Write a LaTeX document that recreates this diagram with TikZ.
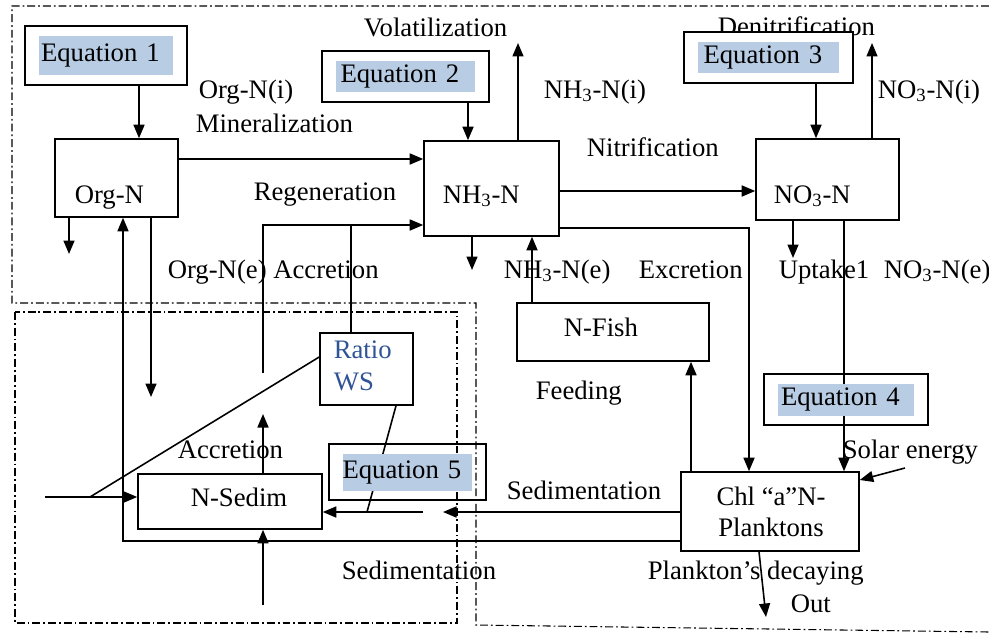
\documentclass[tikz,border=0pt]{standalone}
\usepackage{fontspec}
\setmainfont{Liberation Serif}
\usetikzlibrary{arrows.meta}
\definecolor{eqblue}{RGB}{184,204,228}
\definecolor{ratioblue}{RGB}{47,84,150}

\begin{document}
\begin{tikzpicture}[x=0.02cm, y=-0.02cm, line width=0.9pt,
    font=\fontsize{15.2}{18}\selectfont,
    box/.style={draw, inner sep=0pt},
    eqbox/.style={draw, inner sep=0pt, minimum width=3.28cm, minimum height=1.02cm,
      text width=2.6cm, align=left,
      path picture={\fill[eqblue] ([shift={(0.28cm,0.19cm)}]path picture bounding box.south west)
        rectangle ([shift={(-0.28cm,-0.19cm)}]path picture bounding box.north east);}},
    lbl/.style={anchor=base west, inner sep=0pt},
    arr/.style={-{Triangle[length=0.27cm,width=0.22cm]}},
    zone/.style={line width=0.6pt, dash pattern=on 4.5pt off 1.7pt on 1pt off 1.7pt}]
    \useasboundingbox (0,0) rectangle (989,635);

    % water column and sediment zones
    \draw[zone] (989,6) -- (12,6) -- (12,303) -- (476,303) -- (476,625) -- (989,632);
    \draw[zone] (15,312) rectangle (457,623);

    % compartments
    \node[box, minimum width=2.46cm, minimum height=1.56cm] (orgn) at (116.5,178) {};
    \node[box, minimum width=2.7cm, minimum height=1.9cm] (nh3) at (491.5,188.5) {};
    \node[box, minimum width=2.86cm, minimum height=1.62cm] (no3) at (827.5,179.5) {};
    \node[box, minimum width=3.84cm, minimum height=1.16cm] (fish) at (613,332) {};
    \node[box, minimum width=3.56cm, minimum height=1.58cm] (chl) at (770,511.5) {};
    \node[box, minimum width=1.86cm, minimum height=1.44cm] (ratio) at (366.5,369) {};
    \node[box, minimum width=3.68cm, minimum height=1.1cm] (sedim) at (230,501.5) {};

    \node[lbl] at (74,203) {Org-N};
    \node[lbl] at (442,203) {NH\textsubscript{3}-N};
    \node[lbl] at (773,203) {NO\textsubscript{3}-N};
    \node[lbl] at (563,336) {N-Fish};
    \node[lbl] at (190,506) {N-Sedim};
    \node[inner sep=0pt, align=center] at (771,512) {Chl “a”N-\\Planktons};
    \node[inner sep=0pt, align=left, anchor=west, text=ratioblue] at (333,366) {Ratio\\WS};

    % process labels
    \node[lbl] at (363,37) {Volatilization};
    \node[lbl] at (198,98) {Org-N(i)};
    \node[lbl] at (195,132) {Mineralization};
    \node[lbl] at (253,200) {Regeneration};
    \node[lbl] at (167,278) {Org-N(e) Accretion};
    \node[lbl] at (543,98) {NH\textsubscript{3}-N(i)};
    \node[lbl] at (586,156) {Nitrification};
    \node[lbl] at (717,36) {Denitrification};
    \node[lbl] at (877,98) {NO\textsubscript{3}-N(i)};
    \node[lbl] at (503,278) {NH\textsubscript{3}-N(e)};
    \node[lbl] at (638,278) {Excretion};
    \node[lbl] at (778,278) {Uptake1};
    \node[lbl] at (883,278) {NO\textsubscript{3}-N(e)};
    \node[lbl] at (535,399) {Feeding};
    \node[lbl] at (842,458) {Solar energy};
    \node[lbl] at (506,499) {Sedimentation};
    \node[lbl] at (647,579) {Plankton’s decaying};
    \node[lbl] at (790,612) {Out};
    \node[lbl] at (177,458) {Accretion};
    \node[lbl] at (341,579) {Sedimentation};

    % equation boxes
    \node[eqbox, minimum width=3.24cm, minimum height=1.18cm] (eq1) at (106,55.5) {Equation 1};
    \node[eqbox, minimum width=3.34cm] (eq2) at (405.5,76.5) {Equation 2};
    \node[eqbox, minimum width=3.38cm, fill=white] (eq3) at (768.5,57.5) {Equation 3};

    % free ends
    \coordinate (regenin) at (263,373);
    \coordinate (regenjoin) at (351,225);
    \coordinate (orgnout) at (69,254);
    \coordinate (orgnsink) at (151,397);
    \coordinate (nh3out) at (472,270);
    \coordinate (volat) at (518,43);
    \coordinate (denit) at (872,43);
    \coordinate (uptake) at (793,258);
    \coordinate (solar) at (905,468);
    \coordinate (out) at (766,617);
    \coordinate (sedgapa) at (443,512);
    \coordinate (sedgapb) at (423,512);
    \coordinate (ratiolow) at (367,512);
    \coordinate (inflow) at (45,497);
    \coordinate (inflowjoin) at (90,497);
    \coordinate (accr) at (263,414);
    \coordinate (bedin) at (263,605);

    % fluxes
    \draw[arr] (139,0 |- eq1.south) -- (139,0 |- orgn.north);
    \draw[arr] (468,0 |- eq2.south) -- (468,0 |- nh3.north);
    \draw[arr] (816,0 |- eq3.south) -- (816,0 |- no3.north);
    \draw[arr] (orgn.east |- 0,159) -- (nh3.west |- 0,159);
    \draw[arr] (regenin) -- (263,225) -- (nh3.west |- 0,225);
    \draw (351,0 |- ratio.north) -- (regenjoin);
    \draw[arr] (69,0 |- orgn.south) -- (orgnout);
    \draw[arr] (151,0 |- orgn.south) -- (orgnsink);
    \draw[arr] (chl.west |- 0,541) -- (123,541) -- (123,0 |- orgn.south);
    \draw[arr] (472,0 |- nh3.south) -- (nh3out);
    \draw[arr] (518,0 |- nh3.north) -- (volat);
    \draw[arr] (nh3.east |- 0,191) -- (no3.west |- 0,191);
    \draw[arr] (nh3.east |- 0,228) -- (749,228) -- (749,0 |- chl.north);
    \draw[arr] (532,0 |- fish.north) -- (532,0 |- nh3.south);
    \draw[arr] (872,0 |- no3.north) -- (denit);
    \draw[arr] (793,0 |- no3.south) -- (uptake);
    \draw[arr] (844,0 |- no3.south) -- (844,0 |- chl.north);
    \draw[arr] (691,0 |- chl.north) -- (691,0 |- fish.south);
    \draw[arr] (solar) -- (chl.east |- 0,480);
    \draw[arr] (759,0 |- chl.south) -- (out);
    \draw[arr] (chl.west |- 0,512) -- (sedgapa);
    \draw[arr] (sedgapb) -- (sedim.east |- 0,512);
    \draw (396,0 |- ratio.south) -- (ratiolow);
    \draw (ratio.west |- 0,357) -- (inflowjoin);
    \draw[arr] (inflow) -- (sedim.west |- 0,497);
    \draw[arr] (263,0 |- sedim.north) -- (accr);
    \draw[arr] (bedin) -- (263,0 |- sedim.south);

    \node[eqbox] (eq4) at (846,399.5) {Equation 4};
    \node[eqbox, minimum width=3.14cm, minimum height=1.12cm] (eq5) at (407.5,472) {Equation 5};
\end{tikzpicture}
\end{document}
